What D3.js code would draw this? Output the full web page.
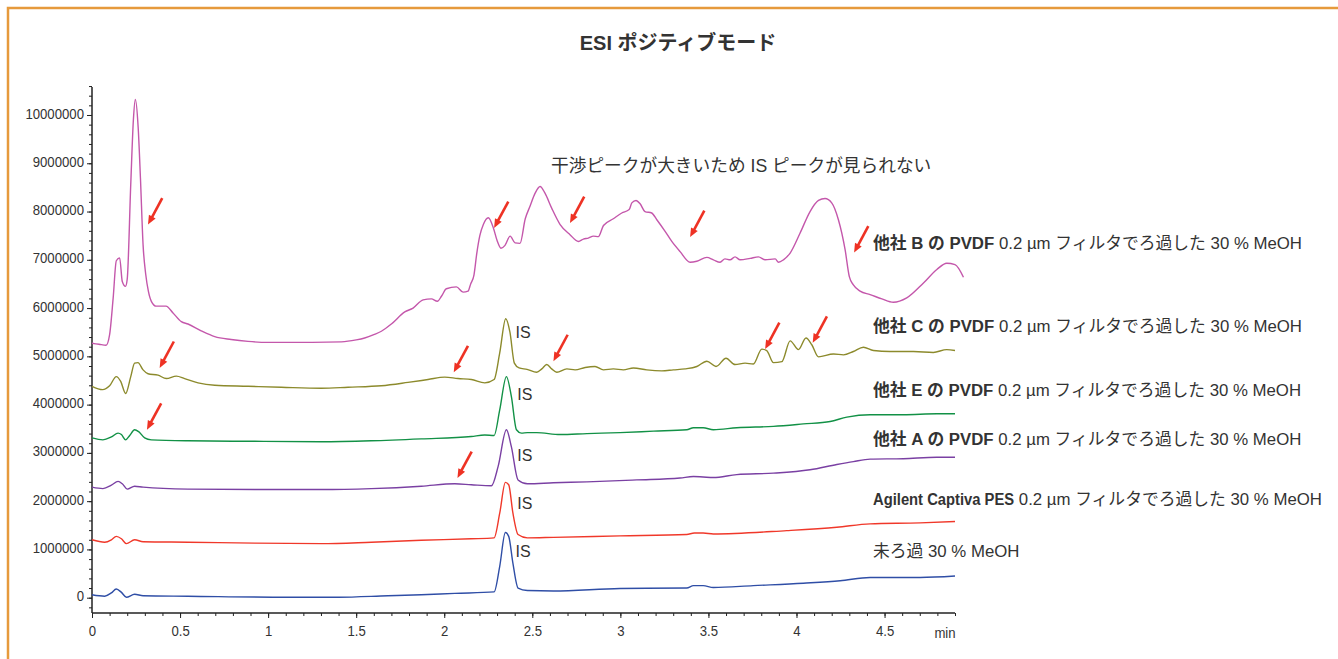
<!DOCTYPE html>
<html lang="ja">
<head>
<meta charset="utf-8">
<title>ESI ポジティブモード</title>
<script src="https://cdn.jsdelivr.net/npm/d3@7"></script>
<style>
  html, body { margin: 0; padding: 0; background: #fff; }
  svg { display: block; }
  text { font-family: "Liberation Sans", Arial, "Noto Sans CJK JP", sans-serif; fill: #333; }
</style>
</head>
<body>
<svg id="chart" width="1338" height="659"></svg>
<script>
// Retention time (min) and signal (counts, in millions) for each chromatogram
const traceB = [[0.0,5.27],[0.04,5.25],[0.08,5.23],[0.1,5.45],[0.12,6.2],[0.138,6.98],[0.157,7.04],[0.172,6.55],[0.19,6.45],[0.2,6.6],[0.22,8.56],[0.235,9.9],[0.246,10.32],[0.262,9.75],[0.275,8.7],[0.29,7.31],[0.305,6.7],[0.32,6.35],[0.337,6.14],[0.365,6.04],[0.42,6.04],[0.46,5.9],[0.507,5.72],[0.545,5.67],[0.62,5.53],[0.697,5.41],[0.79,5.35],[0.886,5.31],[1.0,5.29],[1.11,5.29],[1.25,5.29],[1.416,5.3],[1.5,5.34],[1.548,5.38],[1.6,5.45],[1.643,5.52],[1.7,5.67],[1.776,5.92],[1.823,6.0],[1.88,6.17],[1.927,6.19],[1.961,6.14],[1.985,6.25],[2.012,6.4],[2.069,6.44],[2.107,6.33],[2.135,6.35],[2.15,6.5],[2.169,6.69],[2.185,7.14],[2.202,7.5],[2.222,7.73],[2.25,7.87],[2.279,7.66],[2.3,7.4],[2.322,7.24],[2.345,7.3],[2.374,7.49],[2.402,7.35],[2.43,7.34],[2.46,7.85],[2.487,8.11],[2.516,8.38],[2.544,8.52],[2.572,8.38],[2.61,8.07],[2.658,7.73],[2.714,7.52],[2.762,7.38],[2.79,7.43],[2.818,7.45],[2.847,7.49],[2.875,7.48],[2.904,7.71],[2.96,7.85],[3.008,7.97],[3.05,8.04],[3.065,8.18],[3.089,8.23],[3.112,8.16],[3.14,8.0],[3.178,7.97],[3.207,7.83],[3.254,7.59],[3.292,7.38],[3.339,7.17],[3.396,6.95],[3.434,6.97],[3.491,7.05],[3.528,7.0],[3.566,6.95],[3.594,7.02],[3.623,7.0],[3.651,7.06],[3.68,7.0],[3.737,7.03],[3.784,7.06],[3.822,7.0],[3.879,7.02],[3.898,6.95],[3.926,7.0],[3.964,7.14],[4.02,7.55],[4.077,8.0],[4.125,8.23],[4.162,8.27],[4.2,8.18],[4.238,7.83],[4.276,7.21],[4.3,6.65],[4.323,6.48],[4.361,6.35],[4.418,6.28],[4.485,6.19],[4.55,6.12],[4.626,6.21],[4.721,6.52],[4.797,6.8],[4.853,6.93],[4.9,6.9],[4.948,6.64]];

const traceC = [[0.0,4.38],[0.06,4.31],[0.1,4.39],[0.138,4.58],[0.163,4.48],[0.191,4.23],[0.22,4.58],[0.242,4.86],[0.261,4.87],[0.29,4.72],[0.318,4.64],[0.375,4.61],[0.422,4.54],[0.479,4.59],[0.526,4.54],[0.602,4.45],[0.697,4.4],[0.886,4.38],[1.075,4.36],[1.302,4.34],[1.454,4.36],[1.643,4.39],[1.794,4.46],[1.908,4.52],[2.003,4.57],[2.078,4.54],[2.154,4.52],[2.23,4.45],[2.283,4.52],[2.315,5.07],[2.349,5.78],[2.373,5.5],[2.398,4.86],[2.425,4.76],[2.47,4.73],[2.525,4.67],[2.554,4.74],[2.582,4.83],[2.61,4.74],[2.639,4.67],[2.696,4.74],[2.743,4.72],[2.8,4.77],[2.856,4.79],[2.904,4.72],[2.96,4.74],[3.017,4.72],[3.074,4.76],[3.15,4.72],[3.235,4.7],[3.301,4.72],[3.368,4.74],[3.434,4.79],[3.491,4.9],[3.543,4.79],[3.6,4.96],[3.651,4.83],[3.708,4.86],[3.755,4.84],[3.803,5.15],[3.831,5.12],[3.869,4.87],[3.917,4.89],[3.964,5.32],[4.011,5.14],[4.054,5.38],[4.087,5.24],[4.125,4.99],[4.21,5.05],[4.267,5.03],[4.323,5.1],[4.38,5.19],[4.437,5.12],[4.531,5.1],[4.664,5.1],[4.777,5.08],[4.853,5.14],[4.9,5.12]];

const traceE = [[0.0,3.31],[0.062,3.27],[0.11,3.33],[0.148,3.41],[0.167,3.38],[0.191,3.27],[0.214,3.36],[0.242,3.48],[0.265,3.44],[0.299,3.31],[0.337,3.27],[0.545,3.25],[0.924,3.24],[1.302,3.23],[1.586,3.25],[1.87,3.29],[2.154,3.34],[2.23,3.37],[2.283,3.36],[2.315,3.89],[2.353,4.58],[2.381,4.17],[2.41,3.48],[2.438,3.41],[2.472,3.42],[2.525,3.42],[2.658,3.38],[2.81,3.4],[2.998,3.42],[3.188,3.45],[3.377,3.48],[3.415,3.52],[3.47,3.52],[3.528,3.48],[3.661,3.52],[3.869,3.55],[4.039,3.6],[4.191,3.65],[4.286,3.74],[4.418,3.79],[4.607,3.79],[4.797,3.81],[4.9,3.81]];

const traceA = [[0.0,2.29],[0.062,2.26],[0.11,2.33],[0.148,2.41],[0.172,2.36],[0.2,2.25],[0.242,2.31],[0.29,2.29],[0.545,2.25],[0.924,2.24],[1.302,2.24],[1.586,2.26],[1.87,2.31],[2.06,2.36],[2.154,2.34],[2.268,2.32],[2.306,2.72],[2.353,3.48],[2.381,3.13],[2.419,2.44],[2.472,2.36],[2.62,2.38],[2.81,2.4],[3.093,2.44],[3.339,2.48],[3.415,2.51],[3.47,2.5],[3.528,2.49],[3.661,2.55],[3.869,2.58],[4.077,2.65],[4.229,2.76],[4.323,2.82],[4.418,2.87],[4.607,2.88],[4.797,2.91],[4.9,2.91]];

const traceCaptiva = [[0.0,1.2],[0.072,1.15],[0.11,1.2],[0.138,1.27],[0.167,1.22],[0.195,1.12],[0.242,1.2],[0.29,1.16],[0.545,1.15],[0.924,1.13],[1.302,1.12],[1.586,1.15],[1.87,1.19],[2.154,1.22],[2.283,1.24],[2.315,1.75],[2.347,2.39],[2.366,2.34],[2.39,1.75],[2.419,1.31],[2.472,1.24],[2.62,1.25],[2.998,1.28],[3.377,1.31],[3.42,1.34],[3.47,1.34],[3.528,1.32],[3.945,1.39],[4.229,1.46],[4.418,1.53],[4.702,1.55],[4.9,1.58]];

const traceUnfiltered = [[0.0,0.06],[0.072,0.03],[0.11,0.1],[0.138,0.18],[0.167,0.11],[0.195,0.01],[0.242,0.07],[0.29,0.04],[0.545,0.03],[1.113,0.01],[1.397,0.01],[1.68,0.04],[1.87,0.06],[2.06,0.09],[2.283,0.12],[2.315,0.65],[2.347,1.35],[2.366,1.27],[2.39,0.71],[2.419,0.2],[2.472,0.15],[2.62,0.14],[2.998,0.19],[3.377,0.2],[3.415,0.25],[3.47,0.25],[3.528,0.21],[3.755,0.25],[4.039,0.3],[4.248,0.35],[4.418,0.42],[4.702,0.42],[4.9,0.45]];

// Series names: bold part + regular part
const seriesBold = ["他社 B の PVDF", "他社 C の PVDF", "他社 E の PVDF", "他社 A の PVDF", "Agilent Captiva PES", ""];
const seriesRest = ["0.2 µm フィルタでろ過した 30 % MeOH", "0.2 µm フィルタでろ過した 30 % MeOH", "0.2 µm フィルタでろ過した 30 % MeOH", "0.2 µm フィルタでろ過した 30 % MeOH", "0.2 µm フィルタでろ過した 30 % MeOH", "未ろ過 30 % MeOH"];
const seriesData = [traceB, traceC, traceE, traceA, traceCaptiva, traceUnfiltered];
const seriesColors = ["#c457ab", "#8c8a2c", "#129146", "#7a40a3", "#f0382a", "#2f4ea6"];

// Interference peaks flagged with arrows: [time, signal (millions)] of the arrow tip
const arrowTips = [[0.318,7.73],[2.283,7.66],[2.714,7.76],[3.396,7.47],[4.327,7.15],[0.384,4.76],[2.054,4.67],[2.62,4.9],[3.822,5.15],[4.092,5.28],[0.312,3.48],[2.075,2.48]];

// Internal-standard label anchors: [time, signal (millions)] per trace that shows the IS peak
const isLabels = [[2.405,5.49],[2.415,4.21],[2.415,2.94],[2.415,1.95],[2.405,0.95]];

const xTicks = [0, 0.5, 1, 1.5, 2, 2.5, 3, 3.5, 4, 4.5];
const yTicks = [0, 1000000, 2000000, 3000000, 4000000, 5000000, 6000000, 7000000, 8000000, 9000000, 10000000];

const MILLION = 1e6;

const svg = d3.select("#chart");

// Squeeze text horizontally to give a condensed typeface look
function condense(sel, factor) {
  sel.each(function () {
    const w = this.getComputedTextLength();
    d3.select(this).attr("textLength", w * factor).attr("lengthAdjust", "spacingAndGlyphs");
  });
}

// Orange frame around the figure
svg.append("path")
  .attr("d", "M8,670 L8,8 L1345,8")
  .attr("fill", "none")
  .attr("stroke", "#e69a3c")
  .attr("stroke-width", 2.5);

const x = d3.scaleLinear().domain([0, 4.9]).range([92, 955]);
const y = d3.scaleLinear().domain([-317000, 10580000]).range([613, 87]);

// Title
svg.append("text")
  .attr("x", 678).attr("y", 43)
  .attr("text-anchor", "middle").attr("dominant-baseline", "central")
  .style("font-size", "20px").style("font-weight", "bold")
  .text("ESI ポジティブモード");

// Axes
const tickFont = g => g.selectAll("text")
  .style("font-size", "15.5px").style("fill", "#333")
  .call(condense, 0.85);

const yMinor = d3.range(-200000, 10600001, 200000);
svg.append("g").attr("transform", "translate(92,0)")
  .call(d3.axisLeft(y).tickValues(yMinor).tickSize(3).tickFormat(""))
  .call(g => g.select(".domain").remove())
  .call(g => g.selectAll("line").attr("stroke", "#222"));
svg.append("g").attr("transform", "translate(92,0)")
  .call(d3.axisLeft(y).tickValues(yTicks).tickSize(5).tickPadding(3).tickFormat(d3.format("d")))
  .call(g => g.select(".domain").attr("d", "M0,87V613").attr("stroke", "#222").attr("stroke-width", 1.5))
  .call(g => g.selectAll("line").attr("stroke", "#222"))
  .call(g => g.selectAll("text").attr("dy", "0.2em"))
  .call(tickFont);

const xMinor = d3.range(0, 4.91, 0.1);
svg.append("g").attr("transform", "translate(0,613)")
  .call(d3.axisBottom(x).tickValues(xMinor).tickSize(3).tickFormat(""))
  .call(g => g.select(".domain").remove())
  .call(g => g.selectAll("line").attr("stroke", "#222"));
svg.append("g").attr("transform", "translate(0,613)")
  .call(d3.axisBottom(x).tickValues(xTicks).tickSize(5).tickPadding(7).tickFormat(d => String(d)))
  .call(g => g.select(".domain").attr("d", "M92,0H955").attr("stroke", "#222").attr("stroke-width", 1.5))
  .call(g => g.selectAll("line").attr("stroke", "#222"))
  .call(tickFont);

svg.append("text")
  .attr("x", 945).attr("y", 632)
  .attr("text-anchor", "middle").attr("dominant-baseline", "central")
  .style("font-size", "15.5px")
  .text("min")
  .call(condense, 0.85);

// Chromatogram traces
const line = d3.line()
  .x(d => x(d[0]))
  .y(d => y(d[1] * MILLION))
  .curve(d3.curveMonotoneX);

svg.append("g").selectAll("path")
  .data(seriesData)
  .join("path")
  .attr("d", line)
  .attr("fill", "none")
  .attr("stroke", (d, i) => seriesColors[i])
  .attr("stroke-width", 1.4)
  .attr("stroke-linejoin", "round");

// Series labels at the right: bold name followed by the regular description
const labelY = [243, 326, 390, 439, 499, 551];
const boldSqueeze = [1, 1, 1, 1, 0.88, 1];
const wordGap = 4.7;
const labels = svg.append("g");
seriesBold.forEach((b, i) => {
  let xPos = 873;
  if (b) {
    const bt = labels.append("text")
      .attr("x", xPos).attr("y", labelY[i])
      .attr("dominant-baseline", "central")
      .style("font-size", "16.8px").style("font-weight", "bold")
      .text(b);
    const w = bt.node().getComputedTextLength() * boldSqueeze[i];
    bt.attr("textLength", w).attr("lengthAdjust", "spacingAndGlyphs");
    xPos += w + wordGap;
  }
  labels.append("text")
    .attr("x", xPos).attr("y", labelY[i])
    .attr("dominant-baseline", "central")
    .style("font-size", "16.8px")
    .text(seriesRest[i]);
});

// IS labels
svg.append("g").selectAll("text")
  .data(isLabels)
  .join("text")
  .attr("x", d => x(d[0]))
  .attr("y", d => y(d[1] * MILLION))
  .attr("dominant-baseline", "central")
  .style("font-size", "16px")
  .text("IS");

// Note about the B trace
svg.append("text")
  .attr("x", 551).attr("y", 166)
  .attr("dominant-baseline", "central")
  .style("font-size", "17.7px")
  .text("干渉ピークが大きいため IS ピークが見られない");

// Red arrows pointing at interference peaks
const ux = 0.474, uy = -0.881;      // direction from tip toward tail
const arrowLen = 30, headLen = 9, headHalf = 3.8;
const arrows = svg.append("g");
arrowTips.forEach(d => {
  const tx = x(d[0]), ty = y(d[1] * MILLION);
  arrows.append("line")
    .attr("x1", tx + ux * arrowLen).attr("y1", ty + uy * arrowLen)
    .attr("x2", tx + ux * (headLen - 1)).attr("y2", ty + uy * (headLen - 1))
    .attr("stroke", "#ee3224").attr("stroke-width", 2.6);
  const bx = tx + ux * headLen, by = ty + uy * headLen;
  const px = -uy, py = ux;
  arrows.append("path")
    .attr("d", `M${tx},${ty}L${bx + px * headHalf},${by + py * headHalf}L${bx - px * headHalf},${by - py * headHalf}Z`)
    .attr("fill", "#ee3224");
});
</script>
</body>
</html>
